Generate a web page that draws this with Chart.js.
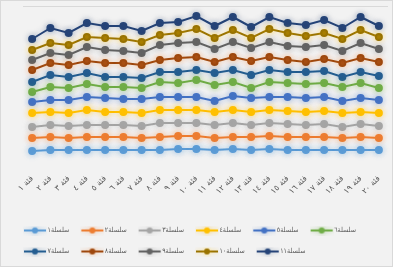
<!DOCTYPE html>
<html lang="ar">
<head>
<meta charset="utf-8">
<script src="https://cdn.jsdelivr.net/npm/chart.js@4.4.1/dist/chart.umd.min.js"></script>
<style>
  html, body { margin: 0; padding: 0; background: #f2f2f2; }
  #wrap { position: relative; width: 393px; height: 267px; }
  #wrap::after { content: ''; position: absolute; inset: 0; border: 1px solid #d9d9d9; pointer-events: none; }
</style>
</head>
<body>
<div id="wrap"><canvas id="chart"></canvas></div>
<script>
// categories and series (stacked line)
const categories = ['فئة ١', 'فئة ٢', 'فئة ٣', 'فئة ٤', 'فئة ٥', 'فئة ٦', 'فئة ٧', 'فئة ٨', 'فئة ٩', 'فئة ١٠',
  'فئة ١١', 'فئة ١٢', 'فئة ١٣', 'فئة ١٤', 'فئة ١٥', 'فئة ١٦', 'فئة ١٧', 'فئة ١٨', 'فئة ١٩', 'فئة ٢٠'];
const seriesNames = ['سلسلة١', 'سلسلة٢', 'سلسلة٣', 'سلسلة٤', 'سلسلة٥', 'سلسلة٦',
  'سلسلة٧', 'سلسلة٨', 'سلسلة٩', 'سلسلة١٠', 'سلسلة١١'];

const series1 = [12, 13, 13, 13, 13, 13, 13, 13, 14, 14, 13, 14, 13, 14, 13, 13, 13, 13, 13, 13];
const series2 = [13, 13, 12, 13, 13, 13, 12, 13, 13, 13, 12, 12, 13, 13, 13, 13, 13, 12, 13, 12];
const series3 = [11, 12, 12, 12, 12, 12, 12, 14, 13, 13, 13, 14, 12, 13, 13, 12, 13, 11, 13, 12];
const series4 = [14, 13, 13, 15, 13, 13, 13, 13, 13, 13, 13, 13, 13, 13, 13, 13, 13, 14, 12, 13];
const series5 = [11, 12, 13, 13, 14, 13, 14, 13, 13, 13, 11, 14, 14, 13, 14, 14, 14, 12, 14, 13];
const series6 = [10, 13, 12, 13, 11, 12, 11, 15, 14, 17, 16, 14, 10, 15, 14, 14, 14, 14, 15, 12];
const series7 = [10, 12, 11, 11, 10, 10, 10, 10, 11, 10, 12, 12, 13, 12, 11, 12, 12, 10, 11, 12];
const series8 = [12, 12, 12, 12, 14, 14, 13, 12, 14, 13, 11, 13, 14, 13, 12, 10, 12, 14, 14, 14];
const series9 = [10, 10, 10, 14, 13, 12, 12, 15, 15, 15, 13, 15, 13, 15, 14, 15, 14, 12, 15, 13];
const series10 = [10, 10, 10, 10, 12, 12, 11, 10, 10, 13, 11, 12, 10, 13, 13, 11, 12, 12, 13, 12];
const series11 = [11, 15, 12, 14, 12, 13, 11, 12, 11, 13, 12, 13, 11, 12, 10, 11, 13, 11, 13, 11];

const allSeries = [series1, series2, series3, series4, series5, series6,
  series7, series8, series9, series10, series11];
const AXIS_MAX = 157;

const COLORS = ['#5b9bd5', '#ed7d31', '#a5a5a5', '#ffc000', '#4472c4', '#70ad47',
  '#255e91', '#9e480e', '#636363', '#997300', '#264478'];
const GLOWS = ['rgba(91,155,213,0.45)', 'rgba(237,125,49,0.4)', 'rgba(165,165,165,0.4)',
  'rgba(255,192,0,0.5)', 'rgba(68,114,196,0.4)', 'rgba(112,173,71,0.45)',
  'rgba(37,94,145,0.35)', 'rgba(237,125,49,0.35)', 'rgba(99,99,99,0.3)',
  'rgba(255,192,0,0.4)', 'rgba(38,68,120,0.3)'];

// legend marker: short line with a dot, like the office legend
function legendMarker(color, glow) {
  const c = document.createElement('canvas');
  c.width = 24; c.height = 10;
  const g = c.getContext('2d');
  g.shadowColor = glow;
  g.shadowBlur = 4;
  g.strokeStyle = color;
  g.lineWidth = 2;
  g.beginPath(); g.moveTo(1, 5); g.lineTo(23, 5); g.stroke();
  g.fillStyle = color;
  g.beginPath(); g.arc(12, 5, 3, 0, Math.PI * 2); g.fill();
  return c;
}
const markers = COLORS.map((c, i) => legendMarker(c, GLOWS[i]));

// soft glow round each line
const glowPlugin = {
  id: 'glow',
  beforeDatasetDraw(chart, args) {
    const ctx = chart.ctx;
    ctx.save();
    ctx.shadowColor = GLOWS[args.index];
    ctx.shadowBlur = 6;
  },
  afterDatasetDraw(chart) {
    chart.ctx.restore();
  },
};

const datasets = allSeries.map((values, i) => ({
  label: seriesNames[i],
  data: values,
  borderColor: COLORS[i],
  backgroundColor: COLORS[i],
  borderWidth: 2,
  pointRadius: 3,
  pointHoverRadius: 3,
  pointStyle: 'circle',
  fill: false,
  tension: 0,
}));

const TEXT = '#595959';

new Chart(document.getElementById('chart'), {
  type: 'line',
  data: { labels: categories, datasets },
  plugins: [glowPlugin],
  options: {
    responsive: true,
    maintainAspectRatio: false,
    animation: false,
    layout: { padding: { top: 6, left: 12, right: 4, bottom: 2 } },
    plugins: {
      tooltip: { enabled: false },
      legend: {
        position: 'bottom',
        align: 'start',
        labels: {
          usePointStyle: true,
          pointStyleWidth: 18,
          padding: 14,
          color: TEXT,
          font: { family: 'DejaVu Sans Condensed, DejaVu Sans', size: 7 },
          generateLabels(chart) {
            const items = Chart.defaults.plugins.legend.labels.generateLabels(chart);
            items.forEach(it => { it.pointStyle = markers[it.datasetIndex]; });
            return items;
          },
        },
      },
    },
    scales: {
      x: {
        offset: true,
        grid: { display: false },
        border: { display: false },
        ticks: {
          color: TEXT,
          font: { family: 'DejaVu Sans', size: 8 },
          autoSkip: false, minRotation: 45, maxRotation: 45, padding: 3,
        },
        afterFit(scale) { scale.height = 50; },
      },
      y: {
        stacked: true,
        min: 0,
        max: AXIS_MAX,
        border: { display: false },
        grid: {
          color: ctx => (ctx.tick && ctx.tick.value === AXIS_MAX ? '#d9d9d9' : 'rgba(0,0,0,0)'),
          drawTicks: false,
        },
        ticks: { display: false, stepSize: AXIS_MAX },
        afterFit(scale) { scale.width = 11; },
      },
    },
  },
});
</script>
</body>
</html>
